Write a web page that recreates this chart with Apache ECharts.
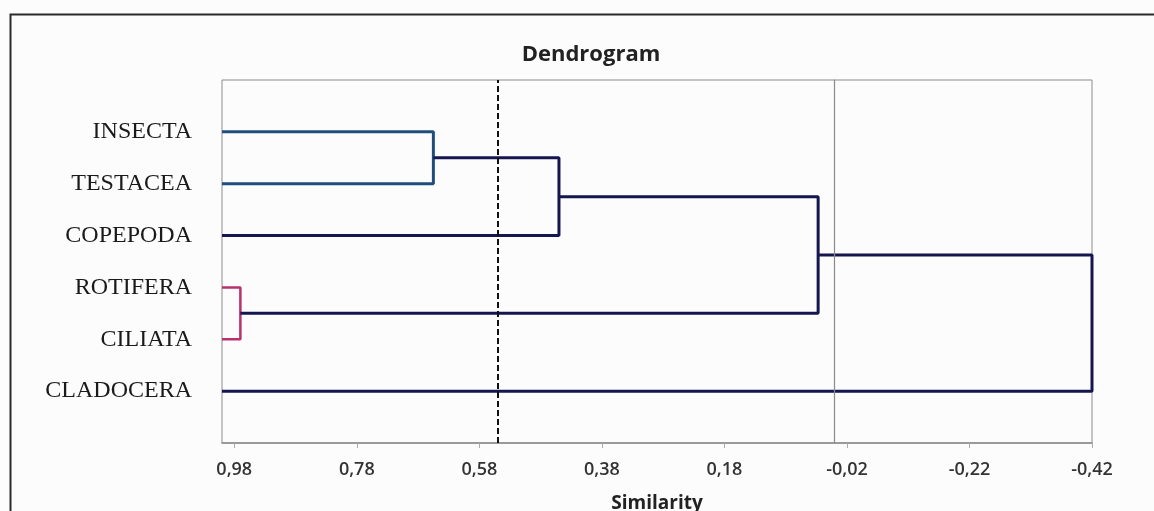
<!DOCTYPE html>
<html>
<head>
<meta charset="utf-8">
<script src="https://cdn.jsdelivr.net/npm/echarts@6/dist/echarts.min.js"></script>
<style>
  html, body { margin: 0; padding: 0; background: #fcfcfc; }
  #chart { width: 1154px; height: 511px; }
</style>
</head>
<body>
<div id="chart"></div>
<script>
// leaves, top to bottom
const leaves = ['INSECTA', 'TESTACEA', 'COPEPODA', 'ROTIFERA', 'CILIATA', 'CLADOCERA'];
const leafRows = [6, 5, 4, 3, 2, 1];
// merges: children (0-5 leaves, 6+ earlier merges) and similarity level
const mergeLeft = [0, 6, 3, 7, 9];
const mergeRight = [1, 2, 4, 8, 5];
const mergeSimilarity = [0.655, 0.45, 0.97, 0.027, -0.42];
const mergeColors = ['#1f4e7d', '#15164f', '#b8306e', '#15164f', '#15164f'];
const cutLevel = 0.545;
const tickValues = [0.98, 0.78, 0.58, 0.38, 0.18, -0.02, -0.22, -0.42];

const nodeX = leaves.map(() => 1.0);
const nodeY = leafRows.slice();
const series = [];
mergeSimilarity.forEach((s, i) => {
  const a = mergeLeft[i], b = mergeRight[i];
  series.push({
    type: 'line',
    showSymbol: false,
    animation: false,
    silent: true,
    lineStyle: { color: mergeColors[i], width: i === 2 ? 2.5 : 3 },
    data: [[nodeX[a], nodeY[a]], [s, nodeY[a]], [s, nodeY[b]], [nodeX[b], nodeY[b]]]
  });
  nodeX.push(s);
  nodeY.push((nodeY[a] + nodeY[b]) / 2);
});
// zero line and cut line
series.push({
  type: 'line',
  data: [],
  markLine: {
    silent: true,
    symbol: 'none',
    animation: false,
    label: { show: false },
    data: [
      { xAxis: 0, lineStyle: { color: '#8a8a8a', width: 1.2, type: 'solid' } },
      { xAxis: cutLevel, lineStyle: { color: '#111', width: 2, type: [6, 3] } }
    ]
  }
});

const myChart = echarts.init(document.getElementById('chart'));
myChart.setOption({
  backgroundColor: '#fcfcfc',
  animation: false,
  title: {
    text: 'Dendrogram',
    left: 586,
    top: 39,
    textAlign: 'center',
    textStyle: { fontFamily: 'Open Sans', fontSize: 22, fontWeight: 'bold', color: '#222' }
  },
  graphic: [{
    type: 'rect',
    left: 8, top: 12,
    shape: { width: 1170, height: 530 },
    style: { fill: 'none', stroke: '#2a2a2a', lineWidth: 2 },
    silent: true
  }],
  grid: {
    left: 222, right: 62, top: 80, bottom: 68,
    show: true, borderColor: '#8c8c8c', borderWidth: 1,
    containLabel: false,
    outerBoundsMode: 'none'
  },
  xAxis: {
    type: 'value',
    inverse: true,
    min: -0.42,
    max: 1.0,
    name: 'Similarity',
    nameLocation: 'middle',
    nameGap: 51,
    nameTextStyle: { fontFamily: 'Open Sans', fontSize: 19, fontWeight: 'bold', color: '#222' },
    axisLine: { show: true, lineStyle: { color: '#8c8c8c', width: 1.5 } },
    axisTick: { show: true, length: 5, customValues: tickValues, lineStyle: { color: '#aaa' } },
    splitLine: { show: false },
    axisLabel: {
      customValues: tickValues,
      margin: 18,
      fontFamily: 'Open Sans', fontSize: 18, fontWeight: 600, color: '#333',
      formatter: v => v.toFixed(2).replace('.', ',')
    }
  },
  yAxis: {
    type: 'value',
    min: 0,
    max: 7,
    axisLine: { show: true, lineStyle: { color: '#8c8c8c' } },
    axisTick: { show: false },
    splitLine: { show: false },
    axisLabel: {
      customValues: leafRows,
      margin: 30,
      fontFamily: 'Liberation Serif', fontSize: 24, color: '#1a1a1a',
      formatter: v => leaves[leafRows.indexOf(Math.round(v))] || ''
    }
  },
  series: series
});
window.addEventListener('resize', function () {
  myChart.resize();
});
</script>
</body>
</html>
